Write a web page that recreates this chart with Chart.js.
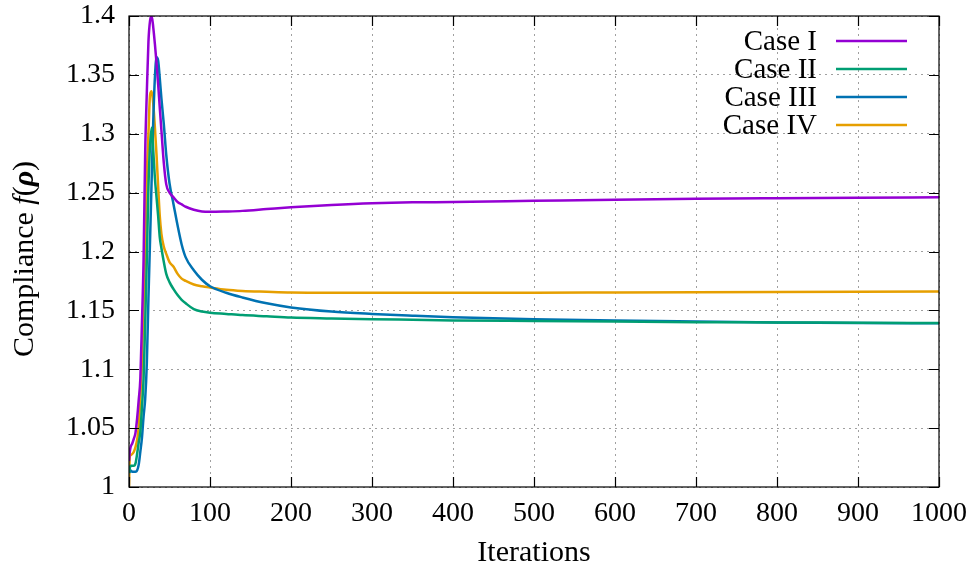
<!DOCTYPE html>
<html lang="en">
<head>
<meta charset="UTF-8">
<title>Compliance vs iterations</title>
<script src="https://cdn.jsdelivr.net/npm/chart.js"></script>
<style>
  body { margin: 0; background: #ffffff; }
</style>
</head>
<body>
<canvas id="chart" width="969" height="573"></canvas>
<script>
// values (shared iteration axis, denser near the peak)
const iterations = [0, 1, 2, 4, 6, 8, 10, 12, 14, 16, 18, 20, 22, 24, 26, 28, 30, 32, 34, 36, 38, 40,
  43, 46, 50, 55, 60, 65, 70, 80, 90, 100, 120, 140, 170, 200, 250, 300, 350, 400, 500, 600, 700, 800, 900, 1000];

const case1 = [1.022, 1.030, 1.034, 1.037, 1.041, 1.046, 1.058, 1.074, 1.092, 1.140, 1.193, 1.285, 1.335, 1.378, 1.396, 1.400, 1.390, 1.376, 1.360, 1.342, 1.322, 1.303,
  1.275, 1.257, 1.250, 1.246, 1.242, 1.240, 1.238, 1.2355, 1.234, 1.2337, 1.234, 1.2345, 1.236, 1.2375, 1.2395, 1.241, 1.2418, 1.242, 1.243, 1.244, 1.2448, 1.2453, 1.2457, 1.246];

const case2 = [1.012, 1.016, 1.018, 1.018, 1.018, 1.020, 1.028, 1.038, 1.047, 1.068, 1.092, 1.140, 1.193, 1.255, 1.290, 1.305, 1.285, 1.262, 1.246, 1.230, 1.212, 1.203,
  1.191, 1.181, 1.174, 1.168, 1.163, 1.159, 1.156, 1.151, 1.149, 1.148, 1.147, 1.146, 1.145, 1.144, 1.1432, 1.1425, 1.142, 1.1415, 1.141, 1.1405, 1.140, 1.1398, 1.1395, 1.1393];

const case3 = [1.012, 1.013, 1.014, 1.013, 1.013, 1.013, 1.014, 1.019, 1.030, 1.042, 1.060, 1.075, 1.105, 1.160, 1.210, 1.262, 1.312, 1.348, 1.365, 1.362, 1.347, 1.330,
  1.308, 1.282, 1.258, 1.240, 1.222, 1.206, 1.195, 1.184, 1.176, 1.1705, 1.165, 1.161, 1.156, 1.1525, 1.149, 1.147, 1.1455, 1.1442, 1.1425, 1.1413, 1.1405, 1.1398, 1.1393, 1.139];

const case4 = [1.000, 1.026, 1.027, 1.028, 1.030, 1.034, 1.040, 1.051, 1.076, 1.107, 1.155, 1.203, 1.265, 1.300, 1.333, 1.336, 1.325, 1.305, 1.282, 1.255, 1.230, 1.215,
  1.204, 1.198, 1.191, 1.187, 1.181, 1.177, 1.175, 1.172, 1.1705, 1.1694, 1.1675, 1.1665, 1.1658, 1.1652, 1.165, 1.165, 1.165, 1.165, 1.165, 1.1652, 1.1654, 1.1656, 1.1658, 1.166];

const seriesNames = ['Case I', 'Case II', 'Case III', 'Case IV'];
const seriesColors = ['#9400d3', '#009e73', '#0072b2', '#e69f00'];
const seriesValues = [case1, case2, case3, case4];

const SERIF = '"Liberation Serif", "DejaVu Serif", serif';

function toPoints(values) {
  return values.map((v, i) => ({ x: iterations[i], y: v }));
}

// frame with inward ticks on all four sides, gnuplot style
const framePlugin = {
  id: 'frame',
  afterDraw(chart) {
    const { ctx, chartArea: a, scales } = chart;
    ctx.save();
    ctx.strokeStyle = '#000';
    ctx.lineWidth = 1.2;
    ctx.strokeRect(a.left, a.top, a.right - a.left, a.bottom - a.top);
    ctx.beginPath();
    scales.x.ticks.forEach(t => {
      const px = Math.round(scales.x.getPixelForValue(t.value)) + 0.5;
      ctx.moveTo(px, a.bottom); ctx.lineTo(px, a.bottom - 10);
      ctx.moveTo(px, a.top); ctx.lineTo(px, a.top + 10);
    });
    scales.y.ticks.forEach(t => {
      const py = Math.round(scales.y.getPixelForValue(t.value)) + 0.5;
      ctx.moveTo(a.left, py); ctx.lineTo(a.left + 10, py);
      ctx.moveTo(a.right, py); ctx.lineTo(a.right - 10, py);
    });
    ctx.stroke();
    ctx.restore();
  }
};

// axis titles (y title mixes upright, italic and bold italic)
const titlePlugin = {
  id: 'titles',
  afterDraw(chart) {
    const { ctx, chartArea: a } = chart;
    ctx.save();
    ctx.fillStyle = '#000';
    ctx.font = '30px ' + SERIF;
    ctx.textAlign = 'center';
    ctx.textBaseline = 'middle';
    ctx.fillText('Iterations', (a.left + a.right) / 2, 553);

    const parts = [
      ['Compliance ', ''], ['f', 'italic '], ['(', ''], ['ρ', 'bold italic '], [')', '']
    ];
    let total = 0;
    parts.forEach(p => { ctx.font = p[1] + '30px ' + SERIF; p.push(ctx.measureText(p[0]).width); total += p[2]; });
    ctx.translate(25, 259);
    ctx.rotate(-Math.PI / 2);
    ctx.textAlign = 'left';
    let x = -total / 2;
    parts.forEach(p => { ctx.font = p[1] + '30px ' + SERIF; ctx.fillText(p[0], x, 0); x += p[2]; });
    ctx.restore();
  }
};

// legend: right aligned label, line sample on the right
const legendPlugin = {
  id: 'keybox',
  afterDraw(chart) {
    const { ctx } = chart;
    ctx.save();
    ctx.font = '29px ' + SERIF;
    ctx.textAlign = 'right';
    ctx.textBaseline = 'middle';
    chart.data.datasets.forEach((ds, i) => {
      const y = 41 + i * 28;
      ctx.fillStyle = '#000';
      ctx.fillText(ds.label, 817, y + 1);
      ctx.strokeStyle = ds.borderColor;
      ctx.lineWidth = 2.5;
      ctx.beginPath();
      ctx.moveTo(836, y);
      ctx.lineTo(907, y);
      ctx.stroke();
    });
    ctx.restore();
  }
};

new Chart(document.getElementById('chart'), {
  type: 'line',
  data: {
    datasets: seriesValues.map((vals, i) => ({
      label: seriesNames[i],
      data: toPoints(vals),
      borderColor: seriesColors[i],
      borderWidth: 2.5,
      pointRadius: 0,
      fill: false,
      cubicInterpolationMode: 'monotone'
    }))
  },
  options: {
    responsive: false,
    animation: false,
    layout: { padding: { left: 0, right: 30, top: 16, bottom: 0 } },
    plugins: { legend: { display: false }, tooltip: { enabled: false } },
    scales: {
      x: {
        type: 'linear',
        min: 0,
        max: 1000,
        afterFit: s => { s.height = 86; s.paddingLeft = 0; s.paddingRight = 0; },
        ticks: {
          stepSize: 100, color: '#000', padding: 10, maxRotation: 0,
          font: { family: SERIF, size: 28 },
          callback: v => String(v)
        },
        grid: { color: '#a0a0a0', lineWidth: 1, drawTicks: false },
        border: { display: false, dash: [2, 4] }
      },
      y: {
        min: 1,
        max: 1.4,
        afterFit: s => { s.width = 129; s.paddingTop = 0; s.paddingBottom = 0; },
        ticks: {
          stepSize: 0.05,
          color: '#000',
          padding: 14,
          font: { family: SERIF, size: 28 },
          callback: v => String(Number(v.toFixed(2)))
        },
        grid: { color: '#a0a0a0', lineWidth: 1, drawTicks: false },
        border: { display: false, dash: [2, 4] }
      }
    }
  },
  plugins: [framePlugin, titlePlugin, legendPlugin]
});
</script>
</body>
</html>
